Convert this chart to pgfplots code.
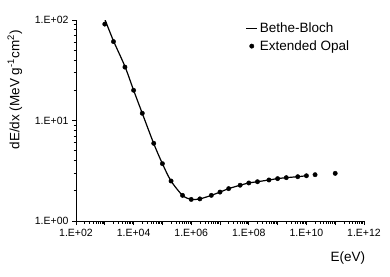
\documentclass[border=0pt]{standalone}
\usepackage{fontspec}
\setmainfont{Liberation Sans}
\usepackage{pgfplots}
\pgfplotsset{compat=1.18}
\begin{document}
\begin{tikzpicture}
\useasboundingbox (-76pt,-55pt) rectangle (314pt,221pt);
\begin{axis}[
  at={(0,0)}, anchor=south west,
  scale only axis, width=288pt, height=201pt,
  xmode=log, ymode=log,
  xmin=1e2, xmax=1e12, ymin=1, ymax=100,
  axis x line*=bottom, axis y line*=left,
  axis line style={-, line width=0.8pt},
  xtick={1e2,1e3,1e4,1e5,1e6,1e7,1e8,1e9,1e10,1e11,1e12},
  xticklabels={1.E+02,,1.E+04,,1.E+06,,1.E+08,,1.E+10,,1.E+12},
  minor xtick={2e2,3e2,4e2,5e2,6e2,7e2,8e2,9e2,
    2e3,3e3,4e3,5e3,6e3,7e3,8e3,9e3,
    2e4,3e4,4e4,5e4,6e4,7e4,8e4,9e4,
    2e5,3e5,4e5,5e5,6e5,7e5,8e5,9e5,
    2e6,3e6,4e6,5e6,6e6,7e6,8e6,9e6,
    2e7,3e7,4e7,5e7,6e7,7e7,8e7,9e7,
    2e8,3e8,4e8,5e8,6e8,7e8,8e8,9e8,
    2e9,3e9,4e9,5e9,6e9,7e9,8e9,9e9,
    2e10,3e10,4e10,5e10,6e10,7e10,8e10,9e10,
    2e11,3e11,4e11,5e11,6e11,7e11,8e11,9e11},
  ytick={1,10,100},
  yticklabels={1.E+00,1.E+01,1.E+02},
  minor ytick={2,3,4,5,6,7,8,9,20,30,40,50,60,70,80,90},
  tick align=outside,
  major tick length=4pt, minor tick length=2.5pt,
  every tick/.style={black, line width=0.7pt},
  tick label style={font=\fontsize{10.5}{12}\selectfont},
  xticklabel style={yshift=-1pt},
  ylabel={dE/dx (MeV g\textsuperscript{-1}cm\textsuperscript{2})},
  ylabel style={at={(axis description cs:-0.212,0.652)}, anchor=center, font=\fontsize{13.5}{15}\selectfont},
  xlabel={E(eV)},
  xlabel style={at={(axis description cs:0.944,-0.184)}, anchor=center, font=\fontsize{13.5}{15}\selectfont},
  legend style={at={(axis description cs:0.585,1.0)}, anchor=north west, draw=none, fill=none,
    font=\fontsize{13.5}{15}\selectfont, row sep=2pt, inner sep=1pt},
  legend cell align=left,
]
\addplot[black, line width=1.2pt, smooth, tension=0.5,
  legend image code/.code={\draw[black, line width=1.2pt] (0pt,0pt) -- (11pt,0pt);}]
  coordinates {
  (1e3,102) (2e3,62) (5e3,34.5) (1e4,20) (2e4,11.8) (5e4,5.9) (1e5,3.72)
  (2e5,2.5) (5e5,1.80) (1e6,1.64) (2e6,1.66) (5e6,1.80) (1e7,1.94)
  (2e7,2.10) (5e7,2.27) (1e8,2.39) (2e8,2.46) (5e8,2.56) (1e9,2.64)
  (2e9,2.70) (5e9,2.76) (1e10,2.82)
  };
\addlegendentry{Bethe-Bloch}
\addplot[only marks, mark=*, mark size=2.2pt, black,
  legend image code/.code={\fill[black] (5.5pt,0pt) circle (2.2pt);}]
  coordinates {
  (1e3,91) (2e3,61) (5e3,34) (1e4,20) (2e4,11.8) (5e4,5.93) (1e5,3.72)
  (2e5,2.50) (5e5,1.80) (1e6,1.64) (2e6,1.66) (5e6,1.80) (1e7,1.94)
  (2e7,2.10) (5e7,2.27) (1e8,2.39) (2e8,2.46) (5e8,2.56) (1e9,2.64)
  (2e9,2.70) (5e9,2.76) (1e10,2.82) (2e10,2.89) (1e11,2.98)
  };
\addlegendentry{Extended Opal}
\end{axis}
\end{tikzpicture}
\end{document}
